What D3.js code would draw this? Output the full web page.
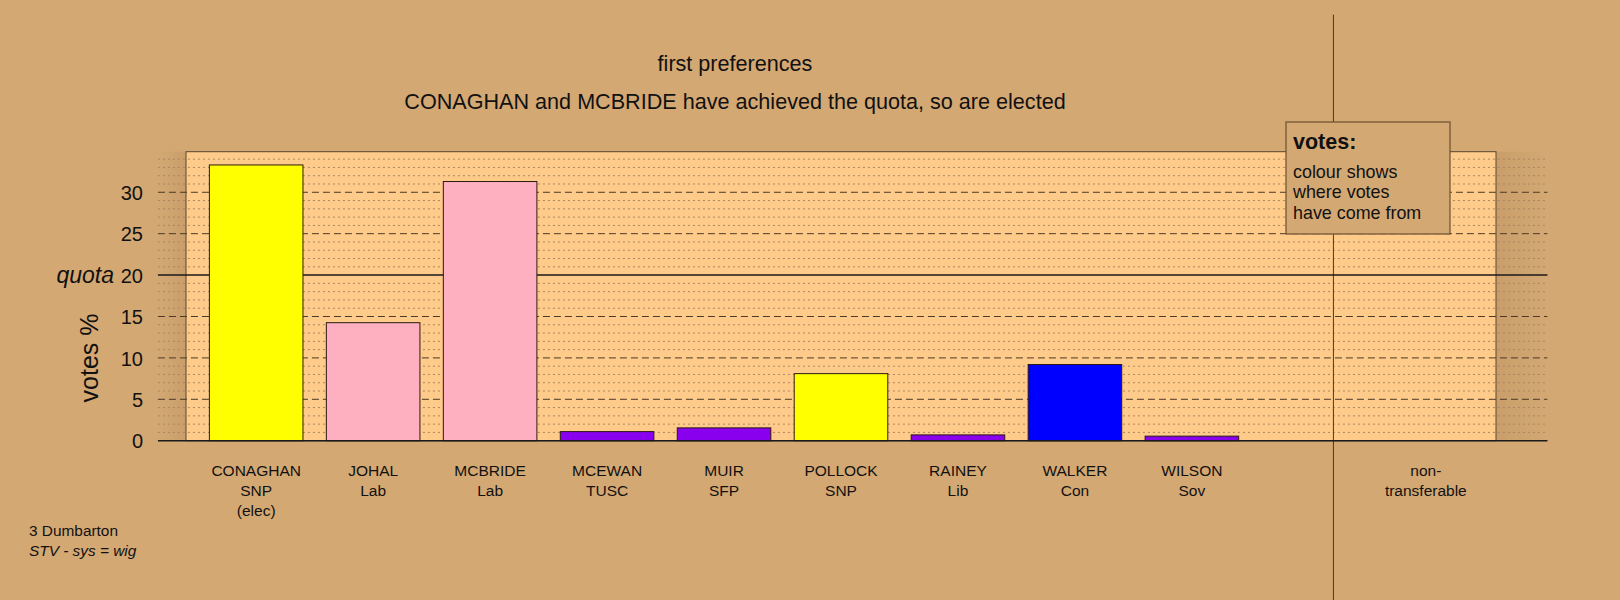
<!DOCTYPE html>
<html>
<head>
<meta charset="utf-8">
<script src="https://cdn.jsdelivr.net/npm/d3@7"></script>
<style>
  html, body { margin: 0; padding: 0; background: #D4A873; }
  svg { display: block; font-family: "Liberation Sans", Arial, sans-serif; }
</style>
</head>
<body>
<svg id="chart" width="1620" height="600"></svg>
<script>
// ---- data ----
const candidates = ["CONAGHAN", "JOHAL", "MCBRIDE", "MCEWAN", "MUIR", "POLLOCK", "RAINEY", "WALKER", "WILSON"];
const parties    = ["SNP", "Lab", "Lab", "TUSC", "SFP", "SNP", "Lib", "Con", "Sov"];
const statuses   = ["(elec)", "", "", "", "", "", "", "", ""];
const votes      = [33.3, 14.25, 31.3, 1.1, 1.55, 8.1, 0.7, 9.2, 0.55];
const colours    = ["#ffff00", "#ffb0c0", "#ffb0c0", "#8800ee", "#8800ee", "#ffff00", "#8800ee", "#0000ff", "#8800ee"];
const yTicks     = [0, 5, 10, 15, 20, 25, 30];
const quota      = 20;
const titleText  = "first preferences";
const subtitle   = "CONAGHAN and MCBRIDE have achieved the quota, so are elected";
const legendTitle = "votes:";
const legendLines = ["colour shows", "where votes", "have come from"];
const ntLabel    = ["non-", "transferable"];
const footLines  = ["3 Dumbarton", "STV - sys = wig"];

// ---- scales ----
const svg = d3.select("#chart");
const x = d3.scaleLinear().domain([-0.6, 10.6]).range([186, 1496]);
const y = d3.scaleLinear().domain([0, 34.9]).range([440.7, 151.7]);

const defs = svg.append("defs");
const gl = defs.append("linearGradient").attr("id", "shadeL").attr("x1", "0").attr("x2", "1");
gl.append("stop").attr("offset", "0").attr("stop-color", "#D4A873");
gl.append("stop").attr("offset", "1").attr("stop-color", "#c99e6a");
const gr = defs.append("linearGradient").attr("id", "shadeR").attr("x1", "0").attr("x2", "1");
gr.append("stop").attr("offset", "0").attr("stop-color", "#c99e6a");
gr.append("stop").attr("offset", "1").attr("stop-color", "#D4A873");

svg.append("rect").attr("width", 1620).attr("height", 600).attr("fill", "#D4A873");

const gx0 = x(-0.84), gx1 = x(11.04);
// shading outside panel
svg.append("rect").attr("x", gx0).attr("y", y(34.9)).attr("width", x(-0.6) - gx0)
  .attr("height", y(0) - y(34.9)).attr("fill", "url(#shadeL)");
svg.append("rect").attr("x", x(10.6)).attr("y", y(34.9)).attr("width", gx1 - x(10.6))
  .attr("height", y(0) - y(34.9)).attr("fill", "url(#shadeR)");

// panel
svg.append("rect").attr("x", x(-0.6)).attr("y", y(34.9))
  .attr("width", x(10.6) - x(-0.6)).attr("height", y(0) - y(34.9))
  .attr("fill", "#FFCB8A").attr("stroke", "#5a4630").attr("stroke-width", 1);

// minor dotted grid
const minor = d3.range(1, 35).filter(v => v % 5 !== 0);
svg.append("g").selectAll("line").data(minor).join("line")
  .attr("x1", gx0).attr("x2", gx1).attr("y1", d => y(d)).attr("y2", d => y(d))
  .attr("stroke", "#a88660").attr("stroke-width", 1).attr("stroke-dasharray", "2,3");
// dashed major grid
const major = yTicks.filter(v => v !== 0 && v !== quota);
svg.append("g").selectAll("line").data(major).join("line")
  .attr("x1", gx0).attr("x2", gx1).attr("y1", d => y(d)).attr("y2", d => y(d))
  .attr("stroke", "#4a3a28").attr("stroke-width", 1).attr("stroke-dasharray", "7,4");

// vertical separator
svg.append("line").attr("x1", x(9.21)).attr("x2", x(9.21)).attr("y1", 14.7).attr("y2", 600)
  .attr("stroke", "#4a3a28").attr("stroke-width", 1);

// quota line
svg.append("line").attr("x1", gx0).attr("x2", gx1).attr("y1", y(quota)).attr("y2", y(quota))
  .attr("stroke", "#1a1a1a").attr("stroke-width", 1.5);

// bars
svg.append("g").selectAll("rect").data(votes).join("rect")
  .attr("x", (d, i) => x(i - 0.4)).attr("width", x(0.4) - x(-0.4))
  .attr("y", d => y(d)).attr("height", d => y(0) - y(d))
  .attr("fill", (d, i) => colours[i]).attr("stroke", "#2a1a10").attr("stroke-width", 1);

// zero line
svg.append("line").attr("x1", gx0).attr("x2", gx1).attr("y1", y(0)).attr("y2", y(0))
  .attr("stroke", "#1a1a1a").attr("stroke-width", 1.5);

// y axis labels
const yAxis = d3.axisLeft(y).tickValues(yTicks).tickSize(0).tickPadding(0);
const ya = svg.append("g").attr("transform", "translate(143,0)").call(yAxis);
ya.select(".domain").remove();
ya.selectAll("text").attr("font-size", 20).attr("fill", "#111").attr("dy", "0.36em")
  .attr("font-family", "Liberation Sans, Arial, sans-serif");

svg.append("text").attr("x", 114).attr("y", y(quota)).attr("dy", "0.36em")
  .attr("text-anchor", "end").attr("font-size", 23).attr("font-style", "italic")
  .attr("fill", "#111").text("quota");

svg.append("text").attr("transform", `translate(98,358) rotate(-90)`)
  .attr("text-anchor", "middle").attr("font-size", 25).attr("fill", "#111").text("votes %");

// x labels
const xl = svg.append("g").selectAll("text").data(candidates).join("text")
  .attr("x", (d, i) => x(i)).attr("y", 476).attr("text-anchor", "middle")
  .attr("font-size", 15.5).attr("fill", "#111");
xl.each(function (d, i) {
  const t = d3.select(this);
  [d, parties[i], statuses[i]].filter(s => s).forEach((s, k) => {
    t.append("tspan").attr("x", x(i)).attr("dy", k === 0 ? 0 : 20).text(s);
  });
});
const nt = svg.append("text").attr("x", x(10)).attr("y", 476).attr("text-anchor", "middle")
  .attr("font-size", 15.5).attr("fill", "#111");
ntLabel.forEach((s, k) => nt.append("tspan").attr("x", x(10)).attr("dy", k === 0 ? 0 : 20).text(s));

// titles
svg.append("text").attr("x", 735).attr("y", 71).attr("text-anchor", "middle")
  .attr("font-size", 21.6).attr("fill", "#111").text(titleText);
svg.append("text").attr("x", 735).attr("y", 109).attr("text-anchor", "middle")
  .attr("font-size", 21.6).attr("fill", "#111").text(subtitle);

// legend
svg.append("rect").attr("x", 1286).attr("y", 122).attr("width", 164).attr("height", 112)
  .attr("fill", "#D4A873").attr("stroke", "#6b5030").attr("stroke-width", 1.2);
svg.append("text").attr("x", 1293).attr("y", 148.5).attr("font-size", 21.5).attr("font-weight", "bold")
  .attr("fill", "#111").text(legendTitle);
svg.append("g").selectAll("text").data(legendLines).join("text")
  .attr("x", 1293).attr("y", (d, i) => 177.5 + i * 20.6).attr("font-size", 17.9)
  .attr("fill", "#111").text(d => d);

// footnote
svg.append("text").attr("x", 29).attr("y", 536).attr("font-size", 15.4).attr("fill", "#111").text(footLines[0]);
svg.append("text").attr("x", 29).attr("y", 556).attr("font-size", 15.4).attr("font-style", "italic")
  .attr("fill", "#111").text(footLines[1]);
</script>
</body>
</html>
